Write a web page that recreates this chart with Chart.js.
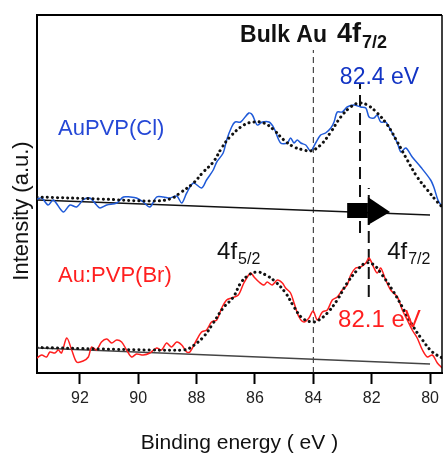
<!DOCTYPE html>
<html>
<head>
<meta charset="utf-8">
<script src="https://cdn.jsdelivr.net/npm/chart.js@4.4.0/dist/chart.umd.min.js"></script>
<style>
  html, body { margin:0; padding:0; background:#fff; }
  #wrap { width:444px; height:456px; position:relative; }
</style>
</head>
<body>
<div id="wrap"><canvas id="xps"></canvas></div>
<script>
/* Au 4f XPS — AuPVP(Cl) vs Au:PVP(Br) */

const xTicks = [92, 90, 88, 86, 84, 82, 80];

// AuPVP(Cl) spectrum (binding energy eV, intensity a.u.)
const clE = [93.47,93.31,93.09,92.91,92.57,92.34,92.11,91.89,91.66,91.43,91.31,91.08,90.74,90.51,90.28,90.06,89.83,89.60,89.37,89.14,
  88.91,88.68,88.51,88.34,88.11,87.83,87.66,87.43,87.31,87.09,86.97,86.80,86.68,86.49,86.21,86.09,85.92,85.75,85.52,85.35,
  85.12,84.89,84.78,84.66,84.55,84.43,84.26,84.09,83.92,83.75,83.58,83.40,83.29,83.18,83.01,82.84,82.61,82.38,82.20,82.09,
  81.92,81.81,81.69,81.52,81.35,81.12,81.00,80.83,80.61,80.32,79.98,79.86,79.73,79.58];
const clI = [174,175,168,173,161,168,166,173,175,168,165,168,170,176,176,175,171,166,176,176,
  175,177,170,180,190,185,193,203,211,220,233,246,251,251,260,258,248,251,251,245,
  230,230,235,230,233,230,228,222,230,238,240,245,251,261,261,266,268,266,265,256,
  255,258,251,251,243,230,221,225,216,206,193,185,173,166];

// AuPVP(Cl) fit envelope
const clFitE = [93.47,91.31,89.60,88.91,88.57,88.11,87.77,87.43,87.14,86.86,86.38,86.03,85.69,85.35,85.01,84.66,84.32,84.09,
  83.75,83.40,83.06,82.72,82.43,82.15,81.81,81.46,81.12,80.78,80.44,80.09,79.75,79.58];
const clFitI = [176,174,172,174,180,190,201,211,225,236,248,251,250,243,233,226,223,222,
  228,241,256,266,270,268,260,248,231,213,196,183,171,166];

// Au:PVP(Br) spectrum
const brE = [93.47,93.31,93.14,93.03,92.86,92.74,92.63,92.45,92.28,92.11,91.89,91.71,91.60,91.43,91.26,91.08,90.91,90.74,90.57,90.40,
  90.23,90.06,89.83,89.60,89.37,89.20,89.03,88.86,88.68,88.51,88.34,88.23,88.00,87.83,87.66,87.49,87.31,87.14,86.97,86.80,
  86.57,86.38,86.15,86.03,85.86,85.69,85.58,85.41,85.23,85.06,84.95,84.78,84.66,84.49,84.32,84.15,84.01,83.86,83.69,83.52,
  83.35,83.18,83.01,82.84,82.72,82.55,82.38,82.20,82.09,81.92,81.81,81.69,81.52,81.35,81.12,80.95,80.78,80.61,80.44,80.26,
  80.09,79.92,79.75,79.58];
const brI = [15,18,16,21,20,23,20,35,23,11,12,16,26,23,31,34,30,33,31,23,
  16,19,18,20,25,23,30,26,31,28,21,21,33,41,43,51,53,65,73,75,
  78,90,100,96,91,88,91,88,93,90,85,80,70,56,51,55,62,53,61,63,
  73,76,83,88,98,105,106,110,115,105,100,105,93,83,76,63,53,43,35,23,
  16,18,10,5];

// Au:PVP(Br) fit envelope
const brFitE = [93.47,91.31,89.60,88.46,88.23,87.77,87.43,87.09,86.74,86.49,86.21,85.92,85.63,85.29,84.95,84.66,84.38,84.04,
  83.81,83.52,83.18,82.84,82.49,82.20,81.92,81.64,81.29,80.95,80.61,80.26,79.92,79.58];
const brFitI = [25.5,24,23,23,25,36,50,65,76,90,98,101,98,91,80,66,55,51,
  53,60,73,90,103,110,108,98,83,66,48,33,21,15];

// linear backgrounds (end points)
const clBaseE = [93.44, 80.0], clBaseI = [173, 158];
const brBaseE = [93.44, 80.0], brBaseI = [25, 9];

// reference energies
const bulkAu = 84.0, clPeak = 82.4, brPeak = 82.1;

const pts = (xs, ys) => xs.map((x, i) => ({ x, y: ys[i] }));

const BLUE = '#1f5ad8', RED = '#ff1f1f';
const FONT = '"Liberation Sans", Arial, sans-serif';

const notes = [
  { x: 86.51, y: 331, main: 'Bulk Au', font: 'bold 23px ' + FONT, color: '#111' },
  { x: 83.19, y: 331, main: '4f', sub: '7/2', font: 'bold 27px ' + FONT, subFont: 'bold 18px ' + FONT, dy: 6, color: '#111' },
  { x: 83.09, y: 289, main: '82.4 eV', font: '23px ' + FONT, color: '#1234c4' },
  { x: 92.75, y: 238, main: 'AuPVP(Cl)', font: '22px ' + FONT, color: '#2548d6' },
  { x: 92.75, y: 91, main: 'Au:PVP(Br)', font: '22px ' + FONT, color: RED },
  { x: 87.30, y: 114, main: '4f', sub: '5/2', font: '24px ' + FONT, subFont: '16px ' + FONT, dy: 5, color: '#111' },
  { x: 81.47, y: 114, main: '4f', sub: '7/2', font: '24px ' + FONT, subFont: '16px ' + FONT, dy: 5, color: '#111' },
  { x: 83.15, y: 46, main: '82.1 eV', font: '24px ' + FONT, color: RED },
];

// shift arrow (eV / intensity)
const arrowBody = { x0: 82.84, x1: 82.13, y0: 155, y1: 170 };
const arrowHead = { x0: 82.13, tip: 81.37, yTop: 176, yBot: 148, yTip: 161 };

const decor = {
  id: 'decor',
  afterDatasetsDraw(chart) {
    const { ctx, chartArea: a, scales: { x, y } } = chart;
    ctx.save();
    // frame top / right
    ctx.strokeStyle = '#000';
    ctx.lineWidth = 2;
    ctx.beginPath(); ctx.moveTo(a.left, a.top); ctx.lineTo(a.right, a.top); ctx.stroke();
    ctx.lineWidth = 1.5;
    ctx.beginPath(); ctx.moveTo(a.right, a.top); ctx.lineTo(a.right, a.bottom); ctx.stroke();

    // arrow
    ctx.fillStyle = '#000';
    ctx.fillRect(x.getPixelForValue(arrowBody.x0), y.getPixelForValue(arrowBody.y1),
      x.getPixelForValue(arrowBody.x1) - x.getPixelForValue(arrowBody.x0),
      y.getPixelForValue(arrowBody.y0) - y.getPixelForValue(arrowBody.y1));
    ctx.beginPath();
    ctx.moveTo(x.getPixelForValue(arrowHead.x0), y.getPixelForValue(arrowHead.yTop));
    ctx.lineTo(x.getPixelForValue(arrowHead.tip), y.getPixelForValue(arrowHead.yTip));
    ctx.lineTo(x.getPixelForValue(arrowHead.x0), y.getPixelForValue(arrowHead.yBot));
    ctx.closePath();
    ctx.fill();

    // text notes
    ctx.textBaseline = 'alphabetic';
    ctx.textAlign = 'left';
    notes.forEach(n => {
      const px = x.getPixelForValue(n.x), py = y.getPixelForValue(n.y);
      ctx.fillStyle = n.color;
      ctx.font = n.font;
      ctx.fillText(n.main, px, py);
      if (n.sub) {
        const w = ctx.measureText(n.main).width;
        ctx.font = n.subFont;
        ctx.fillText(n.sub, px + w + 1, py + n.dy);
      }
    });

    // y title
    ctx.translate(22, 211);
    ctx.rotate(-Math.PI / 2);
    ctx.textAlign = 'center';
    ctx.textBaseline = 'middle';
    ctx.fillStyle = '#111';
    ctx.font = '22px ' + FONT;
    ctx.fillText('Intensity (a.u.)', 0, 0);
    ctx.restore();
  }
};

new Chart(document.getElementById('xps'), {
  type: 'scatter',
  data: {
    datasets: [
      { data: pts(clFitE, clFitI), showLine: true, borderColor: '#111', borderWidth: 3, borderDash: [0.1, 5], borderCapStyle: 'round', tension: 0.4, pointRadius: 0, order: 0 },
      { data: pts(brFitE, brFitI), showLine: true, borderColor: '#111', borderWidth: 3, borderDash: [0.1, 5], borderCapStyle: 'round', tension: 0.4, pointRadius: 0, order: 0 },
      { data: pts(clE, clI), showLine: true, borderColor: BLUE, borderWidth: 1.5, tension: 0.3, pointRadius: 0, order: 1 },
      { data: pts(brE, brI), showLine: true, borderColor: RED, borderWidth: 1.5, tension: 0.3, pointRadius: 0, order: 1 },
      { data: pts(clBaseE, clBaseI), showLine: true, borderColor: '#111', borderWidth: 1.5, pointRadius: 0, order: 2 },
      { data: pts(brBaseE, brBaseI), showLine: true, borderColor: '#444', borderWidth: 1.5, pointRadius: 0, order: 2 },
      { data: [{ x: bulkAu, y: 0 }, { x: bulkAu, y: 323 }], showLine: true, borderColor: '#222', borderWidth: 1, borderDash: [6, 4], pointRadius: 0, order: 3 },
      { data: [{ x: clPeak, y: 140 }, { x: clPeak, y: 290 }], showLine: true, borderColor: '#111', borderWidth: 2, borderDash: [12, 6], pointRadius: 0, order: 3 },
      { data: [{ x: brPeak, y: 76 }, { x: brPeak, y: 185 }], showLine: true, borderColor: '#111', borderWidth: 2, borderDash: [12, 6], pointRadius: 0, order: 3 },
    ]
  },
  options: {
    responsive: true,
    maintainAspectRatio: false,
    animation: false,
    devicePixelRatio: 1,
    layout: { padding: { left: 0, right: 2, top: 15, bottom: 0 } },
    plugins: { legend: { display: false }, tooltip: { enabled: false } },
    scales: {
      x: {
        type: 'linear', reverse: true, min: 79.59, max: 93.47,
        afterBuildTicks: s => { s.ticks = xTicks.map(v => ({ value: v })); },
        afterFit: s => { s.height = 83; },
        border: { color: '#000', width: 2 },
        grid: { drawOnChartArea: false, drawTicks: true, tickLength: 11, tickWidth: 2, tickColor: '#000' },
        ticks: { color: '#222', padding: 5, font: { family: FONT, size: 16 } },
        title: { display: true, text: 'Binding energy ( eV )', color: '#111', padding: { top: 0, bottom: 0 },
          font: { family: FONT, size: 21 } }
      },
      y: {
        type: 'linear', min: 0, max: 358,
        afterFit: s => { s.width = 37; },
        border: { color: '#000', width: 2 },
        grid: { display: false },
        ticks: { display: false }
      }
    }
  },
  plugins: [decor]
});
</script>
</body>
</html>
